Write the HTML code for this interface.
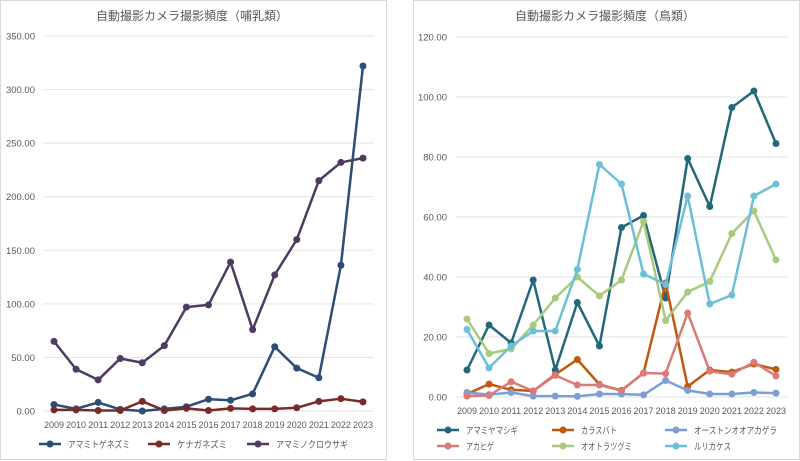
<!DOCTYPE html>
<html><head><meta charset="utf-8"><style>
body{margin:0;background:#fff;}
svg{display:block;font-family:"Liberation Sans","Noto Sans CJK JP",sans-serif;}
</style></head><body>
<svg id="s" width="800" height="461" xmlns="http://www.w3.org/2000/svg"></svg>
<script>
const s=document.getElementById('s');let h='';
h+='<rect x="0.5" y="0.5" width="386" height="459" fill="#fff" stroke="#d9d9d9"/>';
h+='<rect x="413.5" y="0.5" width="386" height="459" fill="#fff" stroke="#d9d9d9"/>';
function chart(o){
  const {x0,step,yTop,yBot,max,gx1,gx2,lx,series,ticks}=o;
  const Y=v=>yBot-(v/max)*(yBot-yTop);
  for(const t of ticks){const y=Y(t);
    h+=`<line x1="${gx1}" x2="${gx2}" y1="${y}" y2="${y}" stroke="#e3e3e3" stroke-width="1"/>`;
    h+=`<text x="${lx}" y="${y+3.5}" font-size="9.5" fill="#595959" text-anchor="end">${t.toFixed(2)}</text>`;}
  for(let i=0;i<15;i++)h+=`<text x="${x0+i*step-10}" y="${yBot+17}" font-size="9.5" fill="#595959" textLength="20" lengthAdjust="spacingAndGlyphs">${2009+i}</text>`;
  for(const se of series){const pts=se.d.map((v,i)=>[x0+i*step,Y(v)]);
    h+=`<polyline points="${pts.map(p=>p.join(',')).join(' ')}" fill="none" stroke="${se.c}" stroke-width="2.5" stroke-linejoin="round"/>`;
    for(const p of pts)h+=`<circle cx="${p[0]}" cy="${p[1]}" r="3.5" fill="${se.c}"/>`;
    h+=`<line x1="${se.lx}" x2="${se.lx+22}" y1="${se.ly}" y2="${se.ly}" stroke="${se.c}" stroke-width="2.5"/><circle cx="${se.lx+11}" cy="${se.ly}" r="3.5" fill="${se.c}"/>`;
    h+=`<text x="${se.lx+29}" y="${se.ly+4}" font-size="9.5" fill="#595959" textLength="${se.tl}" lengthAdjust="spacingAndGlyphs">${se.n}</text>`;}
}
h+='<text x="192" y="20" font-size="12" fill="#595959" text-anchor="middle">自動撮影カメラ撮影頻度（哺乳類）</text>';
h+='<text x="605" y="20" font-size="12" fill="#595959" text-anchor="middle">自動撮影カメラ撮影頻度（鳥類）</text>';
chart({x0:54,step:22.07,yTop:36,yBot:411,max:350,gx1:43,gx2:374,lx:35,ticks:[0,50,100,150,200,250,300,350],series:[
{n:'アマミトゲネズミ',c:'#2c4d75',lx:39,ly:444,tl:62,d:[6,2,8,1.5,0,2,4,11,10,16,60,40,31,136,322]},
{n:'ケナガネズミ',c:'#772c2a',lx:148,ly:444,tl:50,d:[1,1,0.5,0.5,9,0.5,2.5,0.5,2.5,2,2,3,9,11.5,8.5]},
{n:'アマミノクロウサギ',c:'#4d3b62',lx:247,ly:444,tl:72,d:[65,39,29,49,45,61,97,99,139,76,127,160,215,232,236]}]});
chart({x0:467,step:22.07,yTop:37,yBot:397,max:120,gx1:456,gx2:787,lx:447,ticks:[0,20,40,60,80,100,120],series:[
{n:'アマミヤマシギ',c:'#23687a',lx:437,ly:430,tl:52,d:[9,24,18,39,9,31.5,17,56.5,60.5,33,79.5,63.5,96.5,102,84.5]},
{n:'カラスバト',c:'#c0580f',lx:552,ly:430,tl:36,d:[1,4.3,2.4,2,7.5,12.5,4.2,2.2,8,38,3.5,9,8.3,11,9.2]},
{n:'オーストンオオアカゲラ',c:'#7d9fd6',lx:665,ly:430,tl:83,d:[1.5,0.8,1.5,0.3,0.3,0.2,1,1,0.7,5.5,2.2,1,1,1.5,1.3]},
{n:'アカヒゲ',c:'#d97b78',lx:437,ly:446,tl:28,d:[0.3,0.5,5.1,2,7.2,4,4,2.1,8,7.8,28,8.6,7.6,11.6,7]},
{n:'オオトラツグミ',c:'#a9c97c',lx:552,ly:446,tl:51,d:[26,14.5,16,24,33,40,33.7,39,58.5,25.5,35,38.5,54.5,62,45.7]},
{n:'ルリカケス',c:'#6cc0d5',lx:665,ly:446,tl:37,d:[22.5,9.7,17,22,22,42.5,77.5,71,41,37.5,67,31,34,67,71]}]});
s.innerHTML=h;
</script>
</body></html>
